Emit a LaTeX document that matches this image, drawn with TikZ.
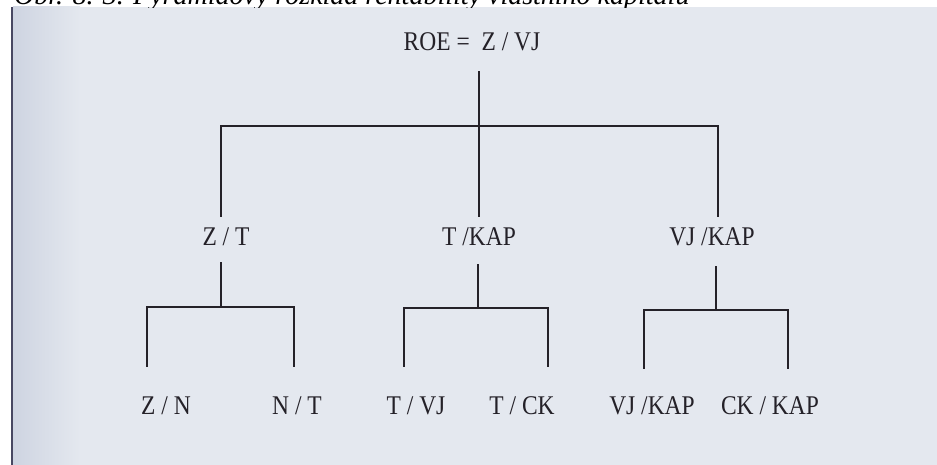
\documentclass[tikz,border=0pt]{standalone}
\usepackage{fontspec}
\setmainfont{Liberation Serif}

\definecolor{paper}{RGB}{228,232,239}
\definecolor{paperedge}{RGB}{206,212,225}
\definecolor{spine}{RGB}{72,72,98}
\definecolor{ink}{RGB}{36,33,40}

% condensed label text
\newcommand{\narrowtext}[1]{\scalebox{0.87}[1]{#1}}

\tikzset{
  ratio/.style={font=\fontsize{27}{30}\selectfont, text=ink, inner sep=0pt},
  tree/.style={line width=2.6pt, draw=ink, line cap=rect}
}

\begin{document}
\begin{tikzpicture}[x=1pt,y=-1pt]
   \useasboundingbox (0,0) rectangle (937,465);
   %paper
   \fill[white] (0,0) rectangle (937,465);
   \fill[paper] (11,7) rectangle (937,465);
   \shade[left color=paperedge, right color=paper] (13,7) rectangle (80,465);
   \draw[line width=2.5pt, spine] (12,7) -- (12,465);
   %caption
   \begin{scope}
     \clip (0,0) rectangle (937,8);
     \node[anchor=base west, inner sep=0pt, text=black, font=\fontsize{28}{30}\selectfont\itshape] (caption) at (14,5) {Obr. 8. 3. Pyramidový rozklad rentability vlastního kapitálu};
   \end{scope}
   %ratios
   \node[ratio] (roe) at (472,42) {\narrowtext{ROE = \ Z / VJ}};
   \node[ratio] (zt) at (226,237) {\narrowtext{Z / T}};
   \node[ratio] (tkap) at (479,237) {\narrowtext{T /KAP}};
   \node[ratio] (vjkap) at (712,237) {\narrowtext{VJ /KAP}};
   \node[ratio] (zn) at (166,406) {\narrowtext{Z / N}};
   \node[ratio] (nt) at (297,406) {\narrowtext{N / T}};
   \node[ratio] (tvj) at (416,406) {\narrowtext{T / VJ}};
   \node[ratio] (tck) at (522,406) {\narrowtext{T / CK}};
   \node[ratio] (vjkapb) at (652,406) {\narrowtext{VJ /KAP}};
   \node[ratio] (ckkap) at (770,406) {\narrowtext{CK / KAP}};
   %line ends
   \coordinate (roe-out) at (479,72);
   \coordinate (bar0) at (479,126);
   \coordinate (zt-in) at (221,216);
   \coordinate (tkap-in) at (479,216);
   \coordinate (vjkap-in) at (718,216);
   \coordinate (zt-out) at (221,263);
   \coordinate (zt-bar) at (221,307);
   \coordinate (zn-in) at (147,366);
   \coordinate (nt-in) at (294,366);
   \coordinate (tkap-out) at (478,265);
   \coordinate (tkap-bar) at (478,308);
   \coordinate (tvj-in) at (404,366);
   \coordinate (tck-in) at (548,366);
   \coordinate (vjkap-out) at (716,267);
   \coordinate (vjkap-bar) at (716,310);
   \coordinate (vjkapb-in) at (644,368);
   \coordinate (ckkap-in) at (788,368);
   %top level
   \draw[tree] (roe-out) -- (tkap-in);
   \draw[tree] (zt-in) -- (zt-in |- bar0) -- (vjkap-in |- bar0) -- (vjkap-in);
   %Z/T
   \draw[tree] (zt-out) -- (zt-bar);
   \draw[tree] (zn-in) -- (zn-in |- zt-bar) -- (nt-in |- zt-bar) -- (nt-in);
   %T/KAP
   \draw[tree] (tkap-out) -- (tkap-bar);
   \draw[tree] (tvj-in) -- (tvj-in |- tkap-bar) -- (tck-in |- tkap-bar) -- (tck-in);
   %VJ/KAP
   \draw[tree] (vjkap-out) -- (vjkap-bar);
   \draw[tree] (vjkapb-in) -- (vjkapb-in |- vjkap-bar) -- (ckkap-in |- vjkap-bar) -- (ckkap-in);
\end{tikzpicture}
\end{document}
